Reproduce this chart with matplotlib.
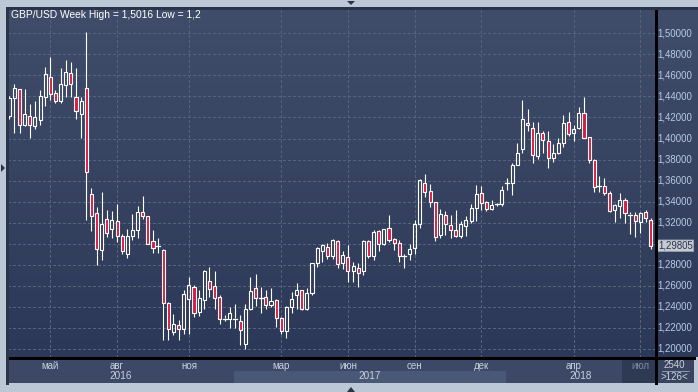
import matplotlib
matplotlib.use("Agg")
import matplotlib.pyplot as plt
import numpy as np
from matplotlib.patches import Rectangle, Polygon
from matplotlib.lines import Line2D
from matplotlib.colors import LinearSegmentedColormap
import matplotlib.transforms as mtransforms

# ---------------- data (weekly GBP/USD candles) ----------------
opens = [1.4216, 1.4381, 1.4467, 1.4133, 1.4216, 1.4117, 1.4175, 1.4397, 1.4587, 1.4429,
         1.4352, 1.4505, 1.4619, 1.4390, 1.4229, 1.4483, 1.3470, 1.3290, 1.2944, 1.3239,
         1.3141, 1.3220, 1.3077, 1.2906, 1.3077, 1.3134, 1.3299, 1.3261, 1.3023, 1.2980,
         1.2938, 1.2440, 1.2161, 1.2225, 1.2187, 1.2478, 1.2589, 1.2351, 1.2469, 1.2643,
         1.2596, 1.2494, 1.2290, 1.2288, 1.2290, 1.2263, 1.2051, 1.2381, 1.2575, 1.2488,
         1.2489, 1.2422, 1.2463, 1.2289, 1.2168, 1.2394, 1.2511, 1.2556, 1.2375, 1.2533,
         1.2813, 1.2933, 1.2965, 1.2881, 1.3023, 1.2817, 1.2875, 1.2741, 1.2773, 1.2741,
         1.3027, 1.2881, 1.3119, 1.3001, 1.3153, 1.3049, 1.3011, 1.2883, 1.2906, 1.2963,
         1.3191, 1.3581, 1.3502, 1.3397, 1.3081, 1.3277, 1.3182, 1.3128, 1.3074, 1.3169,
         1.3217, 1.3344, 1.3483, 1.3394, 1.3330, 1.3373, 1.3378, 1.3575, 1.3578, 1.3747,
         1.3903, 1.4152, 1.4104, 1.3833, 1.4050, 1.3976, 1.3817, 1.3865, 1.3954, 1.4158,
         1.4050, 1.4104, 1.4247, 1.4018, 1.3792, 1.3549, 1.3547, 1.3483, 1.3320, 1.3358,
         1.3416, 1.3282, 1.3272, 1.3202, 1.3304, 1.3230]
highs = [1.4400, 1.4517, 1.4470, 1.4470, 1.4327, 1.4356, 1.4460, 1.4676, 1.4771, 1.4460,
         1.4667, 1.4746, 1.4724, 1.4667, 1.4397, 1.5016, 1.3534, 1.3350, 1.3489, 1.3318,
         1.3309, 1.3375, 1.3096, 1.3138, 1.3280, 1.3356, 1.3451, 1.3265, 1.3128, 1.3058,
         1.2951, 1.2447, 1.2336, 1.2272, 1.2558, 1.2684, 1.2605, 1.2564, 1.2748, 1.2779,
         1.2741, 1.2510, 1.2320, 1.2399, 1.2431, 1.2320, 1.2425, 1.2679, 1.2711, 1.2590,
         1.2559, 1.2575, 1.2479, 1.2305, 1.2406, 1.2543, 1.2622, 1.2560, 1.2575, 1.2819,
         1.2971, 1.2997, 1.3003, 1.3049, 1.3033, 1.2928, 1.2985, 1.2827, 1.2814, 1.3033,
         1.3033, 1.3128, 1.3128, 1.3144, 1.3271, 1.3058, 1.3033, 1.2906, 1.3001, 1.3223,
         1.3619, 1.3661, 1.3572, 1.3397, 1.3334, 1.3312, 1.3271, 1.3325, 1.3217, 1.3261,
         1.3375, 1.3556, 1.3547, 1.3403, 1.3419, 1.3387, 1.3547, 1.3626, 1.3769, 1.3954,
         1.4368, 1.4285, 1.4158, 1.4158, 1.4072, 1.4072, 1.3945, 1.4008, 1.4222, 1.4254,
         1.4126, 1.4304, 1.4390, 1.4018, 1.3801, 1.3642, 1.3620, 1.3499, 1.3375, 1.3480,
         1.3432, 1.3304, 1.3304, 1.3304, 1.3320, 1.3240]
lows = [1.4190, 1.4054, 1.4050, 1.4117, 1.4006, 1.4095, 1.4127, 1.4308, 1.4365, 1.4340,
        1.4333, 1.4390, 1.4390, 1.4181, 1.4006, 1.3230, 1.3122, 1.2795, 1.2843, 1.3065,
        1.3055, 1.3017, 1.2906, 1.2865, 1.3033, 1.3055, 1.3236, 1.2995, 1.2916, 1.2916,
        1.2082, 1.2082, 1.2130, 1.2082, 1.2145, 1.2139, 1.2304, 1.2314, 1.2377, 1.2494,
        1.2383, 1.2234, 1.2266, 1.2203, 1.2203, 1.2035, 1.2003, 1.2368, 1.2406, 1.2343,
        1.2384, 1.2400, 1.2210, 1.2137, 1.2108, 1.2337, 1.2384, 1.2370, 1.2368, 1.2511,
        1.2775, 1.2829, 1.2851, 1.2859, 1.2773, 1.2764, 1.2637, 1.2637, 1.2590, 1.2700,
        1.2868, 1.2843, 1.2932, 1.2986, 1.3017, 1.2944, 1.2827, 1.2773, 1.2849, 1.2900,
        1.3153, 1.3445, 1.3350, 1.3027, 1.3058, 1.3081, 1.3058, 1.3065, 1.3058, 1.3071,
        1.3198, 1.3217, 1.3324, 1.3308, 1.3317, 1.3362, 1.3355, 1.3515, 1.3467, 1.3744,
        1.3865, 1.4072, 1.3769, 1.3808, 1.3865, 1.3722, 1.3776, 1.3849, 1.3922, 1.4024,
        1.3976, 1.4088, 1.4008, 1.3763, 1.3489, 1.3489, 1.3467, 1.3298, 1.3202, 1.3240,
        1.3198, 1.3096, 1.3064, 1.3102, 1.3208, 1.2949]
closes = [1.4381, 1.4476, 1.4133, 1.4229, 1.4133, 1.4200, 1.4400, 1.4610, 1.4422, 1.4359,
          1.4514, 1.4629, 1.4514, 1.4260, 1.4359, 1.3683, 1.3268, 1.2950, 1.3191, 1.3106,
          1.3229, 1.3071, 1.2928, 1.3077, 1.3134, 1.3299, 1.3268, 1.3001, 1.2963, 1.2975,
          1.2440, 1.2193, 1.2234, 1.2193, 1.2520, 1.2605, 1.2345, 1.2485, 1.2741, 1.2573,
          1.2485, 1.2288, 1.2286, 1.2345, 1.2286, 1.2184, 1.2375, 1.2552, 1.2486, 1.2486,
          1.2416, 1.2460, 1.2295, 1.2168, 1.2400, 1.2479, 1.2556, 1.2375, 1.2527, 1.2813,
          1.2956, 1.2987, 1.2886, 1.3039, 1.2811, 1.2897, 1.2741, 1.2786, 1.2725, 1.3027,
          1.2881, 1.3112, 1.3001, 1.3138, 1.3039, 1.3011, 1.2881, 1.2880, 1.2954, 1.3191,
          1.3603, 1.3493, 1.3397, 1.3065, 1.3287, 1.3191, 1.3134, 1.3074, 1.3191, 1.3223,
          1.3344, 1.3477, 1.3387, 1.3330, 1.3368, 1.3375, 1.3515, 1.3580, 1.3744, 1.3865,
          1.4183, 1.4126, 1.3839, 1.4050, 1.3983, 1.3811, 1.3859, 1.3954, 1.4145, 1.4040,
          1.4094, 1.4247, 1.4008, 1.3792, 1.3540, 1.3545, 1.3483, 1.3308, 1.3368, 1.3416,
          1.3288, 1.3276, 1.3218, 1.3288, 1.3240, 1.29805]

price_ticks = [1.20, 1.22, 1.24, 1.26, 1.28, 1.30, 1.32, 1.34, 1.36, 1.38,
               1.40, 1.42, 1.44, 1.46, 1.48, 1.50]
month_labels = ["май", "авг", "ноя", "мар", "июн", "сен", "дек", "апр", "июл"]
month_bar = [8, 21, 35, 53, 66, 79, 92, 110, 123]      # bar index of first week of month
year_labels = ["2016", "2017", "2018"]
year_first_bar = [0, 44, 97]

title = "GBP/USD Week High = 1,5016 Low = 1,2"
last_price = "1,29805"
info_top, info_bottom = "2540", ">126<"

# ---------------- style ----------------
W, H = 698, 392
OUTER = "#bdc8d6"
BG_TOP = "#404d6a"
BG_BOT = "#2c3857"
STRIP = "#3c4866"
STRIP_LIGHT = "#4a5877"
DARKBOX = "#2e3954"
GRID = "#56637f"
RED = "#dc1a40"
TICKCOL = "#b8cbe6"
LABCOL = "#c9d1df"

font = "Liberation Sans"
plt.rcParams["font.family"] = [font, "DejaVu Sans"]

fig = plt.figure(figsize=(W / 100, H / 100), dpi=100)
fig.patch.set_facecolor(OUTER)


def frect(x0, y0, x1, y1):
    """figure-fraction rect from pixel coords (top-left origin)"""
    return [x0 / W, 1 - y1 / H, (x1 - x0) / W, (y1 - y0) / H]


PX0, PX1, PY0, PY1 = 8, 655, 8, 357
n = len(opens)
step = 5.131
xlim = (-(9.3 - PX0) / step, (PX1 - 9.3) / step)
ppu = 1052.0
ylim = (1.50 - (PY1 - 33.3) / ppu, 1.50 + (33.3 - PY0) / ppu)

cmap = LinearSegmentedColormap.from_list("bg", [BG_BOT, BG_TOP])
grad = np.linspace(0, 1, 256).reshape(-1, 1)

# main plot
ax = fig.add_axes(frect(PX0, PY0, PX1, PY1))
ax.imshow(grad, extent=[xlim[0], xlim[1], ylim[0], ylim[1]], origin="lower",
          aspect="auto", cmap=cmap, zorder=0)
ax.set_xlim(*xlim)
ax.set_ylim(*ylim)
ax.set_xticks([])
ax.set_yticks([])
for s in ax.spines.values():
    s.set_visible(False)

for p in price_ticks:
    ax.axhline(p, color=GRID, lw=0.75, ls=(0, (2.2, 2.8)), zorder=1, antialiased=False)
for m in month_bar:
    ax.axvline(m, color=GRID, lw=0.75, ls=(0, (2.2, 2.8)), zorder=1, antialiased=False)

bw = 0.6
for i in range(n):
    o, h, l, c = opens[i], highs[i], lows[i], closes[i]
    top, bot = max(o, c), min(o, c)
    ax.plot([i, i], [top, h], color="white", lw=0.8, zorder=2, solid_capstyle="butt")
    ax.plot([i, i], [l, bot], color="white", lw=0.8, zorder=2, solid_capstyle="butt")
    if top - bot < 0.0007:
        ax.plot([i - bw / 2 - 0.1, i + bw / 2 + 0.1], [c, c], color="white", lw=0.9, zorder=3)
    else:
        fc = RED if c < o else "none"
        ax.add_patch(Rectangle((i - bw / 2, bot), bw, top - bot, facecolor=fc,
                               edgecolor="white", lw=0.8, zorder=3))

ax.text(0.004, 1 - 7 / 349, title, transform=ax.transAxes, color="white",
        fontsize=7.4, va="center", ha="left", zorder=5)

# right price panel
rax = fig.add_axes(frect(PX1, PY0, W, PY1))
rax.imshow(grad, extent=[0, 1, ylim[0], ylim[1]], origin="lower", aspect="auto",
           cmap=cmap, zorder=0)
rax.set_xlim(0, 1)
rax.set_ylim(*ylim)
rax.set_xticks([])
rax.set_yticks([])
for s in rax.spines.values():
    s.set_visible(False)
tr = mtransforms.blended_transform_factory(rax.transAxes, rax.transData)
lp = closes[-1]
tag_h = 5.8 / ppu
for p in price_ticks:
    if abs(p - lp) < 2.2 * tag_h:
        continue  # hidden under the last-price tag
    rax.text(0.06, p, f"{p:.5f}".replace(".", ","), transform=tr, color=TICKCOL,
             fontsize=6.9, va="center", ha="left")

# last price tag
poly = Polygon([[0.0, lp], [0.07, lp + tag_h], [0.90, lp + tag_h], [0.90, lp - tag_h],
                [0.07, lp - tag_h]], closed=True, transform=tr, facecolor="#c5cad3",
               edgecolor="#9aa3b2", lw=0.5, zorder=4)
rax.add_patch(poly)
rax.text(0.49, lp, last_price, transform=tr, color="#2a3348", fontsize=6.9,
         va="center", ha="center", zorder=5)

# bottom time strip
SY1 = 383
bax = fig.add_axes(frect(PX0, PY1, PX1, SY1))
bax.set_facecolor(STRIP)
bax.set_xlim(*xlim)
bax.set_ylim(0, 1)
bax.set_xticks([])
bax.set_yticks([])
for s in bax.spines.values():
    s.set_visible(False)
row = (SY1 - 371) / (SY1 - PY1)
ends = year_first_bar[1:] + [n + 5]
for k, (y0, y1) in enumerate(zip(year_first_bar, ends)):
    a = max(y0 - 0.25, xlim[0])
    b = min(y1 - 0.25, xlim[1])
    if k % 2 == 1:
        bax.axvspan(a, b, ymin=0, ymax=row, color=STRIP_LIGHT, lw=0)
    bax.text((a + b) / 2, 0.27, year_labels[k], color=LABCOL, fontsize=7.2,
             ha="center", va="center")
bax.axvspan(month_bar[-1] - 3.6, xlim[1], color=DARKBOX, lw=0)
for lab, m in zip(month_labels, month_bar):
    col = "#7f8aa0" if m == month_bar[-1] else LABCOL
    bax.text(m, 0.66, lab, color=col, fontsize=7.0, ha="center", va="center")

# bottom-right info box
iax = fig.add_axes(frect(PX1, PY1, 694, SY1))
iax.set_facecolor("#39445f")
iax.set_xticks([])
iax.set_yticks([])
iax.set_xlim(0, 1)
iax.set_ylim(0, 1)
for s in iax.spines.values():
    s.set_visible(False)
iax.text(0.5, 0.70, info_top, color=LABCOL, fontsize=7.0, ha="center", va="center")
iax.text(0.5, 0.24, info_bottom, color=LABCOL, fontsize=7.0, ha="center", va="center")
iax.plot([0.18, 0.87], [0.47, 0.47], color="#9aa6bb", lw=0.6)


# separator lines and frame
def fline(xs, ys, color="black", lw=0.9):
    fig.add_artist(Line2D([v / W for v in xs], [1 - v / H for v in ys], color=color,
                          lw=lw, antialiased=False))


fline([PX1 + 0.5, PX1 + 0.5], [PY0, SY1])
fline([PX0, 694], [PY1 + 0.5, PY1 + 0.5])
fline([PX0 - 0.5, PX0 - 0.5], [PY0, SY1], color="#2a3347")
fline([PX0, W], [PY0 - 0.5, PY0 - 0.5], color="#2a3347")


# small navigation triangles
def ftri(pts, color="#2b3344"):
    fig.add_artist(Polygon([[px / W, 1 - py / H] for px, py in pts], closed=True,
                           transform=fig.transFigure, facecolor=color, edgecolor="none"))


ftri([(347, 1), (355, 1), (351, 5)])
ftri([(347, 392), (355, 392), (351, 387)])
ftri([(1, 164), (1, 172), (5, 168)])

fig.savefig("out.png", dpi=100, facecolor=fig.get_facecolor())
